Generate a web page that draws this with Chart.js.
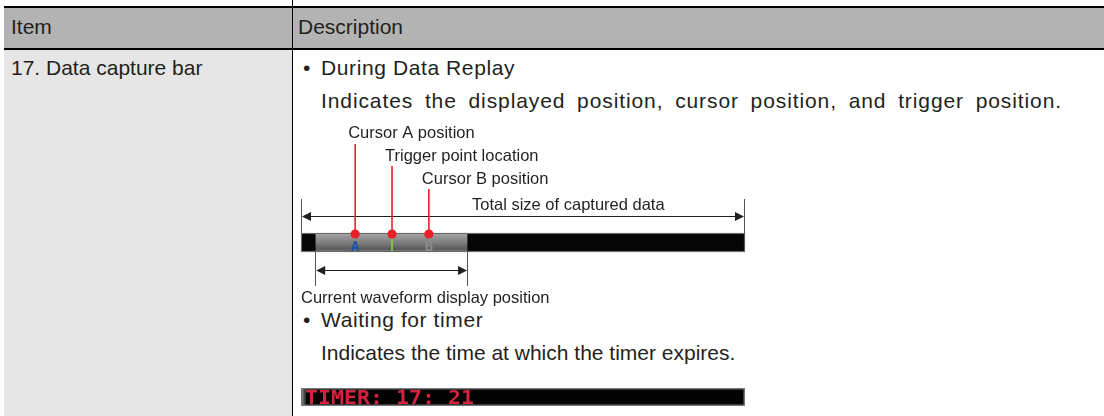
<!DOCTYPE html>
<html>
<head>
<meta charset="utf-8">
<script src="https://cdn.jsdelivr.net/npm/chart.js@4/dist/chart.umd.min.js"></script>
<style>
  html, body { margin: 0; padding: 0; background: #fff; }
  body { width: 1104px; height: 416px; position: relative; overflow: hidden;
         font-family: "Liberation Sans", Arial, sans-serif; color: #231f20; }
  .abs { position: absolute; white-space: nowrap; }
  .t { font-size: 21px; line-height: 21px; }
  #hdr { left: 4px; top: 6px; width: 1100px; height: 44px; box-sizing: border-box;
         background: #b3b3b3; border-top: 2px solid #000; border-bottom: 2px solid #000; }
  #lcol { left: 4px; top: 50px; width: 288px; height: 366px; background: #e6e6e6; }
  #vline { left: 292px; top: 0; width: 1px; height: 416px; background: #000; }
  canvas { display: block; }
  #capWrap { position: absolute; left: 290px; top: 110px; width: 480px; height: 200px; }
  #timWrap { position: absolute; left: 290px; top: 380px; width: 480px; height: 36px; }
</style>
</head>
<body>
<div id="hdr" class="abs"></div>
<div id="lcol" class="abs"></div>
<div id="vline" class="abs"></div>

<div class="abs t" style="left:11px; top:16px;">Item</div>
<div class="abs t" style="left:298px; top:16px;">Description</div>
<div class="abs t" style="left:11px; top:57px;">17. Data capture bar</div>
<div class="abs t" style="left:303px; top:57px;">•</div>
<div class="abs t" style="left:321px; top:57px; letter-spacing:0.6px;">During Data Replay</div>
<div class="abs t" style="left:321px; top:90px; letter-spacing:0.9px; word-spacing:5px;">Indicates the displayed position, cursor position, and trigger position.</div>
<div class="abs t" style="left:303px; top:309px;">•</div>
<div class="abs t" style="left:321px; top:309px; letter-spacing:0.6px;">Waiting for timer</div>
<div class="abs t" style="left:321px; top:342px;">Indicates the time at which the timer expires.</div>

<div id="capWrap"><canvas id="cap" width="480" height="200"></canvas></div>
<div id="timWrap"><canvas id="tim" width="480" height="36"></canvas></div>

<script>
// ---- data (percent of total captured data) ----
const captureCategories = ['Capture'];
const segmentNames = ['Before display', 'Current waveform display', 'After display'];
const segmentValues = [3.2, 34.2, 62.6];          // widths, sum = 100
const totalLabel = 'Total size of captured data';
const displayLabel = 'Current waveform display position';
const cursorNames = ['Cursor A position', 'Trigger point location', 'Cursor B position'];
const cursorValues = [12.2, 20.5, 28.8];
const timerCategories = ['Timer'];
const timerValues = [100];
const timerText = 'TIMER: 17: 21';

const FONT = '"Liberation Sans", Arial, sans-serif';
const INK = '#231f20';

function arrowHead(ctx, x, y, dir) {
  ctx.beginPath();
  ctx.moveTo(x, y);
  ctx.lineTo(x - dir * 9, y - 4.5);
  ctx.lineTo(x - dir * 9, y + 4.5);
  ctx.closePath();
  ctx.fill();
}
function dimArrow(ctx, x1, x2, y) {
  ctx.strokeStyle = INK; ctx.fillStyle = INK; ctx.lineWidth = 1;
  ctx.beginPath(); ctx.moveTo(x1 + 4, y + 0.5); ctx.lineTo(x2 - 4, y + 0.5); ctx.stroke();
  arrowHead(ctx, x1, y + 0.5, -1);
  arrowHead(ctx, x2, y + 0.5, 1);
}
function vline(ctx, x, y1, y2, color, w) {
  ctx.strokeStyle = color; ctx.lineWidth = w;
  ctx.beginPath(); ctx.moveTo(x, y1); ctx.lineTo(x, y2); ctx.stroke();
}

const capturePlugin = {
  id: 'captureDecor',
  afterDatasetsDraw(chart) {
    const ctx = chart.ctx, xs = chart.scales.x, a = chart.chartArea;
    const top = a.top, bot = a.bottom;
    const L = xs.getPixelForValue(0), R = xs.getPixelForValue(100);
    const dS = xs.getPixelForValue(segmentValues[0]);
    const dE = xs.getPixelForValue(segmentValues[0] + segmentValues[1]);
    ctx.save();
    // bar outline
    ctx.strokeStyle = '#6b6b6b'; ctx.lineWidth = 1.2;
    ctx.strokeRect(L + 0.5, top + 0.5, R - L - 1, bot - top - 1);
    // total size dimension
    vline(ctx, Math.round(L) + 0.5, top - 34, top, '#555', 1);
    vline(ctx, Math.round(R) - 0.5, top - 34, bot - 2, '#555', 1);
    dimArrow(ctx, L + 1, R - 1, top - 17);
    ctx.fillStyle = INK; ctx.font = '16.5px ' + FONT; ctx.textBaseline = 'middle'; ctx.textAlign = 'left';
    ctx.fillText(totalLabel, L + 171, top - 28);
    // display position dimension
    vline(ctx, Math.round(dS) + 0.5, bot, bot + 34, '#555', 1);
    vline(ctx, Math.round(dE) + 0.5, bot, bot + 34, '#555', 1);
    dimArrow(ctx, dS + 1, dE, bot + 18);
    ctx.fillStyle = INK;
    ctx.fillText(displayLabel, L, bot + 46);
    // markers inside bar
    const cA = xs.getPixelForValue(cursorValues[0]);
    const cT = xs.getPixelForValue(cursorValues[1]);
    const cB = xs.getPixelForValue(cursorValues[2]);
    ctx.textAlign = 'center'; ctx.textBaseline = 'alphabetic';
    ctx.font = 'bold 14px "DejaVu Sans Mono", monospace';
    ctx.fillStyle = '#1d4fb3'; ctx.fillText('A', cA, bot - 1);
    ctx.fillStyle = '#8c8c8c'; ctx.fillText('B', cB, bot - 1);
    ctx.strokeStyle = '#7cc142'; ctx.lineWidth = 2;
    ctx.beginPath(); ctx.moveTo(cT, top + 3); ctx.lineTo(cT, bot - 1); ctx.stroke();
    ctx.beginPath(); ctx.moveTo(cT, top + 3); ctx.lineTo(cT + 4, top + 2); ctx.stroke();
    // cursor callouts
    const offs = [-89, -67, -44];
    const labY = [-100, -77, -54];
    ctx.font = '16.5px ' + FONT; ctx.textAlign = 'left'; ctx.textBaseline = 'middle';
    [cA, cT, cB].forEach((x, i) => {
      vline(ctx, x, top + offs[i], top, '#e8202a', 1.6);
      ctx.fillStyle = '#e8202a';
      ctx.beginPath(); ctx.arc(x, top + 1, 4.6, 0, Math.PI * 2); ctx.fill();
      ctx.fillStyle = INK;
      ctx.fillText(cursorNames[i], x - 7, top + labY[i]);
    });
    ctx.restore();
  }
};

function displayGradient(context) {
  const chart = context.chart, a = chart.chartArea;
  if (!a) return '#888';
  const g = chart.ctx.createLinearGradient(0, a.top, 0, a.bottom);
  g.addColorStop(0, '#b8b8b8');
  g.addColorStop(0.15, '#9a9a9a');
  g.addColorStop(0.55, '#7a7a7a');
  g.addColorStop(0.85, '#5a5a5a');
  g.addColorStop(1, '#8a8a8a');
  return g;
}

const segColors = ['#050505', displayGradient, '#050505'];

new Chart(document.getElementById('cap'), {
  type: 'bar',
  data: {
    labels: captureCategories,
    datasets: segmentNames.map((n, i) => ({
      label: n,
      data: [segmentValues[i]],
      backgroundColor: segColors[i],
      borderWidth: 0,
      barPercentage: 1,
      categoryPercentage: 1
    }))
  },
  options: {
    indexAxis: 'y',
    responsive: false,
    animation: false,
    layout: { padding: { left: 11, right: 25, top: 123, bottom: 58 } },
    scales: {
      x: { stacked: true, min: 0, max: 100, display: false },
      y: { stacked: true, display: false }
    },
    plugins: { legend: { display: false }, tooltip: { enabled: false }, title: { display: false } }
  },
  plugins: [capturePlugin]
});

const timerPlugin = {
  id: 'timerDecor',
  afterDatasetsDraw(chart) {
    const ctx = chart.ctx, xs = chart.scales.x, a = chart.chartArea;
    const L = xs.getPixelForValue(0), R = xs.getPixelForValue(100);
    ctx.save();
    // left highlight
    const g = ctx.createLinearGradient(L, 0, L + 5, 0);
    g.addColorStop(0, '#9a9a9a'); g.addColorStop(1, '#222');
    ctx.fillStyle = g; ctx.fillRect(L + 1, a.top + 1, 4, a.bottom - a.top - 2);
    ctx.strokeStyle = '#777'; ctx.lineWidth = 1.5;
    ctx.strokeRect(L + 0.75, a.top + 0.75, R - L - 1.5, a.bottom - a.top - 1.5);
    ctx.fillStyle = '#d3223f';
    ctx.font = 'bold 18px "DejaVu Sans Mono", monospace';
    ctx.textBaseline = 'alphabetic'; ctx.textAlign = 'left';
    ctx.translate(L + 4, a.bottom - 2);
    ctx.scale(1.2, 1.08);
    ctx.fillText(timerText, 0, 0);
    ctx.restore();
  }
};

new Chart(document.getElementById('tim'), {
  type: 'bar',
  data: {
    labels: timerCategories,
    datasets: [{ label: 'Timer', data: timerValues, backgroundColor: '#030303', borderWidth: 0,
                 barPercentage: 1, categoryPercentage: 1 }]
  },
  options: {
    indexAxis: 'y',
    responsive: false,
    animation: false,
    layout: { padding: { left: 11, right: 25, top: 8, bottom: 10 } },
    scales: { x: { min: 0, max: 100, display: false }, y: { display: false } },
    plugins: { legend: { display: false }, tooltip: { enabled: false } }
  },
  plugins: [timerPlugin]
});
</script>
</body>
</html>
